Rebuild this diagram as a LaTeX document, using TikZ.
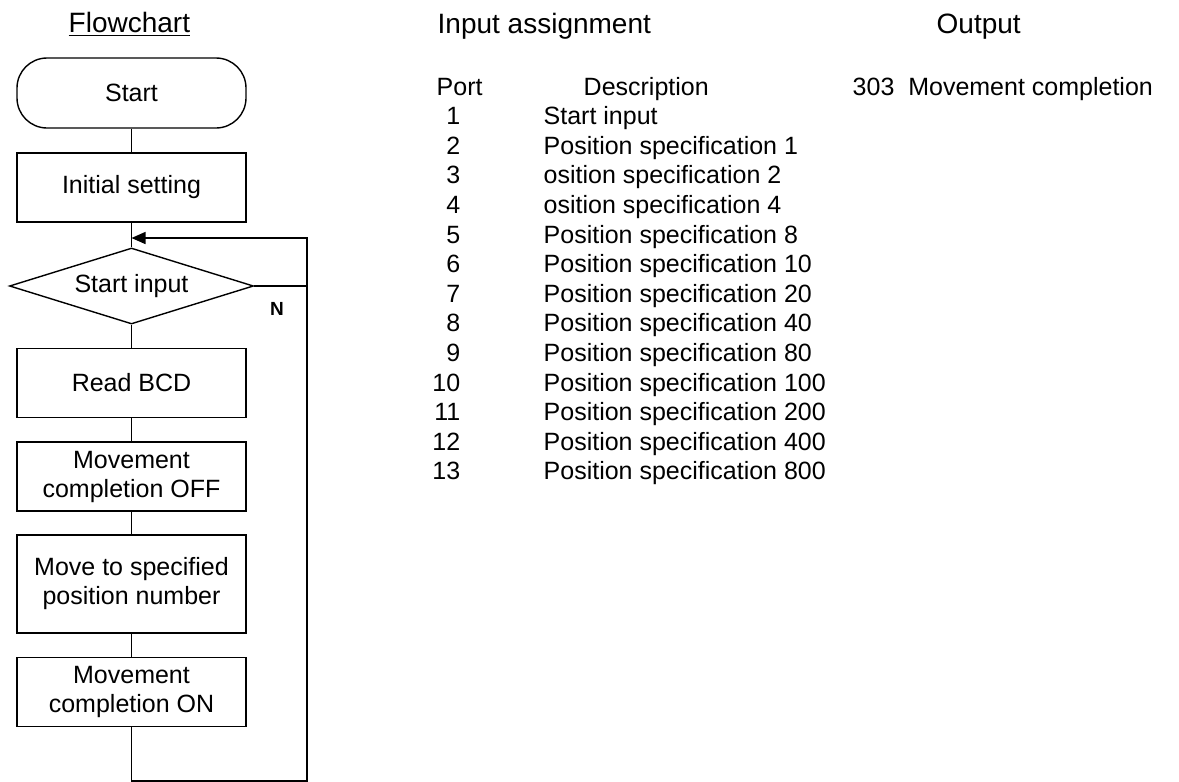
\documentclass[tikz,border=0pt]{standalone}
\usepackage{fontspec}
\setmainfont{Liberation Sans}
\usetikzlibrary{shapes.geometric,arrows.meta}
\newcommand\fcbody{\fontsize{12.5}{14.5}\selectfont}
\newcommand\fchead{\fontsize{14}{16}\selectfont}
\begin{document}
\begin{tikzpicture}[x=0.5pt,y=-0.5pt,line width=0.7pt,
  box/.style={draw, rectangle, minimum width=114.5pt, minimum height=34.5pt, inner sep=1pt, align=center, font=\fcbody},
  term/.style={box, rounded corners=15pt, minimum height=35pt},
  dec/.style={draw, diamond, aspect=3.2, minimum width=122pt, minimum height=38pt, inner sep=0pt, font=\fcbody},
  cell/.style={inner sep=0pt, font=\fcbody},
  hdr/.style={inner sep=0pt, font=\fchead},
  tip/.style={-{Triangle[length=7pt,width=6pt]}}
]
\useasboundingbox (0,0) rectangle (1179,782);

% headers
\node[hdr, anchor=base west] (fc) at (68,32) {\underline{Flowchart}};
\node[hdr, anchor=base west] (ia) at (437,33) {Input assignment};
\node[hdr, anchor=base west] (op) at (936,33) {Output};

% flowchart
\node[term] (start) at (131.5,93) {Start};
\node[box] (init) at (131.5,187.5) {Initial setting};
\node[dec] (dia) at (131.5,286) {Start input};
\node[box] (read) at (131.5,383) {Read BCD};
\node[box] (off) at (131.5,476.5) {Movement\\completion OFF};
\node[box, minimum height=49pt] (move) at (131.5,584) {Move to specified\\position number};
\node[box] (on) at (131.5,692) {Movement\\completion ON};
\node[inner sep=0pt, font=\bfseries\fontsize{9.5}{10}\selectfont] (nlab) at (277,309) {N};

\coordinate (j) at (131.5,238);
\coordinate (rt) at (307,238);
\coordinate (rm) at (307,286);
\coordinate (br) at (307,781);

\draw (start) -- (init);
\draw (init) -- (dia);
\draw (dia) -- (read);
\draw (read) -- (off);
\draw (off) -- (move);
\draw (move) -- (on);
\draw (dia.east) -- (rm);
\draw[tip] (on.south) |- (br) -- (rt) -- (j);

% table
\node[cell, anchor=base west] (port) at (436,95) {Port};
\node[cell, anchor=base west] (desc) at (583,95) {Description};
\node[cell, anchor=base west] (outp) at (852,95) {303\ \ Movement completion};
\foreach \i/\t in {1/Start input,
  2/Position specification 1,
  3/osition specification 2,
  4/osition specification 4,
  5/Position specification 8,
  6/Position specification 10,
  7/Position specification 20,
  8/Position specification 40,
  9/Position specification 80,
  10/Position specification 100,
  11/Position specification 200,
  12/Position specification 400,
  13/Position specification 800} {
  \node[cell, anchor=base east] (num\i) at (461,{95+29.6*\i}) {\i};
  \node[cell, anchor=base west] (txt\i) at (543,{95+29.6*\i}) {\t};
}
\end{tikzpicture}
\end{document}
